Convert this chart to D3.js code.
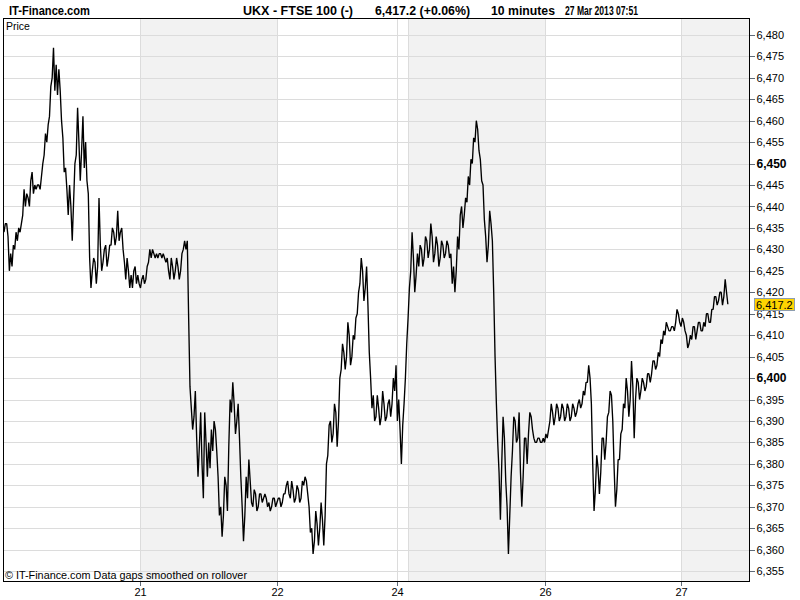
<!DOCTYPE html>
<html lang="en">
<head>
<meta charset="UTF-8">
<title>UKX - FTSE 100</title>
<style>
  body { margin: 0; background: #fff; }
  svg { display: block; font-family: "Liberation Sans", Arial, sans-serif; }
  .hdr { font-weight: bold; font-size: 12px; white-space: pre; }
  .grid { stroke: #dcdcdc; stroke-width: 1; shape-rendering: crispEdges; }
  .axis text { font-size: 11px; fill: #000; }
  .axis line, .axis path { stroke: #5f6b78; shape-rendering: crispEdges; }
</style>
</head>
<body>
<svg id="chart"></svg>
<script src="https://cdnjs.cloudflare.com/ajax/libs/d3/7.9.0/d3.min.js"></script>
<script>
// 5 minute closes, one array per trading day
const days = ["20", "21", "22", "24", "25", "26", "27"];
const day20 = [6434, 6436, 6436, 6433, 6425, 6429, 6426, 6431, 6430, 6434, 6432, 6435, 6434, 6436, 6438, 6444, 6440, 6443,
  6442, 6440, 6446, 6448, 6443, 6445, 6444, 6445, 6445, 6444, 6447, 6450, 6452, 6457, 6455, 6459, 6461, 6468, 6470, 6477,
  6467, 6473, 6466, 6472, 6467, 6460, 6456, 6448, 6449, 6444, 6438, 6445, 6440, 6432, 6441, 6450, 6452, 6463, 6455, 6446,
  6453, 6461, 6449, 6455, 6446, 6443, 6428, 6421, 6425, 6428, 6427, 6422, 6426, 6442, 6431, 6425, 6427, 6430, 6431, 6426,
  6428, 6431, 6431, 6435, 6434, 6431, 6433, 6439, 6432, 6434, 6435, 6430, 6427, 6423, 6428, 6425, 6421, 6424, 6421, 6425,
  6426, 6422, 6424, 6422];
const day21 = [6421, 6423, 6424, 6422, 6423, 6426, 6427, 6430, 6428, 6430, 6429, 6428, 6429, 6428, 6429, 6429, 6428, 6429,
  6428, 6427, 6428, 6425, 6423, 6428, 6426, 6423, 6425, 6428, 6426, 6423, 6425, 6429, 6430, 6432, 6430, 6432, 6414, 6398,
  6393, 6388, 6391, 6397, 6386, 6377, 6384, 6392, 6380, 6372, 6392, 6385, 6377, 6385, 6379, 6388, 6383, 6390, 6388, 6383,
  6377, 6368, 6370, 6363, 6368, 6377, 6375, 6369, 6384, 6395, 6392, 6399, 6394, 6387, 6390, 6394, 6386, 6377, 6370, 6362,
  6368, 6377, 6372, 6381, 6376, 6371, 6370, 6374, 6373, 6369, 6370, 6373, 6373, 6371, 6372, 6373, 6372, 6370, 6371, 6369,
  6370, 6372, 6372, 6370];
const day22 = [6371, 6372, 6372, 6370, 6371, 6373, 6373, 6375, 6376, 6373, 6372, 6376, 6374, 6371, 6372, 6375, 6374, 6371,
  6372, 6376, 6375, 6377, 6376, 6373, 6370, 6364, 6365, 6359, 6362, 6369, 6366, 6361, 6365, 6371, 6367, 6361, 6368, 6380,
  6382, 6389, 6390, 6385, 6387, 6394, 6392, 6384, 6390, 6400, 6402, 6408, 6406, 6402, 6405, 6413, 6410, 6403, 6405, 6410,
  6409, 6414, 6415, 6420, 6422, 6428, 6425, 6418, 6421, 6426, 6417, 6406, 6400, 6393, 6396, 6390, 6391, 6396, 6393, 6389,
  6391, 6397, 6394, 6390, 6391, 6394, 6395, 6391, 6394, 6400, 6397, 6403];
const day24 = [6390, 6395, 6388, 6380, 6389, 6394, 6400, 6408];
const day25 = [6414, 6421, 6425, 6434, 6428, 6420, 6424, 6429, 6426, 6431, 6430, 6426, 6428, 6433, 6432, 6428, 6430, 6436,
  6433, 6427, 6429, 6433, 6431, 6426, 6428, 6432, 6431, 6428, 6429, 6432, 6431, 6428, 6429, 6422, 6426, 6420, 6425, 6433,
  6430, 6438, 6440, 6435, 6438, 6442, 6441, 6447, 6445, 6451, 6450, 6456, 6455, 6460, 6458, 6453, 6451, 6446, 6445, 6437,
  6433, 6427, 6431, 6439, 6436, 6432, 6420, 6405, 6394, 6385, 6378, 6367, 6380, 6391, 6386, 6376, 6370, 6359, 6368, 6377,
  6383, 6391, 6390, 6385, 6386, 6392, 6378, 6370, 6377, 6386, 6386, 6380, 6387, 6392, 6391, 6388, 6386, 6385, 6385, 6386,
  6386, 6385, 6385, 6386];
const day26 = [6385, 6387, 6386, 6388, 6390, 6394, 6392, 6389, 6391, 6394, 6393, 6390, 6391, 6394, 6393, 6390, 6391, 6394,
  6393, 6390, 6391, 6394, 6393, 6391, 6392, 6394, 6395, 6393, 6394, 6397, 6396, 6399, 6399, 6403, 6400, 6394, 6380, 6369,
  6374, 6382, 6379, 6373, 6378, 6386, 6386, 6381, 6385, 6391, 6392, 6397, 6396, 6390, 6379, 6370, 6374, 6381, 6381, 6387,
  6388, 6394, 6393, 6400, 6397, 6391, 6395, 6404, 6398, 6386, 6395, 6400, 6399, 6395, 6397, 6400, 6399, 6397, 6398, 6401,
  6401, 6399, 6401, 6404, 6404, 6402, 6403, 6406, 6405, 6409, 6408, 6411, 6410, 6413, 6412, 6411, 6411, 6412, 6412, 6411,
  6413, 6416, 6415, 6413];
const day27 = [6412, 6414, 6413, 6411, 6410, 6407, 6408, 6410, 6409, 6412, 6412, 6409, 6411, 6413, 6413, 6411, 6411, 6413,
  6412, 6415, 6415, 6413, 6413, 6416, 6416, 6419, 6419, 6417, 6418, 6420, 6420, 6417, 6419, 6423, 6420, 6417.2];
const dayPrices = [day20, day21, day22, day24, day25, day26, day27];

const labelledDays = ["21", "22", "24", "26", "27"];
const shadedDays = ["21", "25", "27"];
const yTicks = [6355, 6360, 6365, 6370, 6375, 6380, 6385, 6390, 6395, 6400, 6405, 6410, 6415, 6420, 6425,
  6430, 6435, 6440, 6445, 6450, 6455, 6460, 6465, 6470, 6475, 6480];
const boldTicks = [6400, 6450];
const lastPrice = 6417.2;

const title = ["UKX - FTSE 100 (-)", "6,417.2 (+0.06%)", "10 minutes", "27 Mar 2013 07:51"];

// flatten days into one slot index
let series = [];
let dayStart = {};
let n = 0;
days.forEach((d, k) => {
  dayStart[d] = n;
  dayPrices[k].forEach(v => { series.push({ i: n, v: v }); n++; });
});
const dayEnd = {};
days.forEach((d, k) => { dayEnd[d] = k < days.length - 1 ? dayStart[days[k + 1]] : null; });

const w = 800, h = 600;
const pLeft = 4, pRight = 749, pTop = 19, pBottom = 581;

const svg = d3.select("#chart").attr("width", w).attr("height", h);
svg.append("rect").attr("width", w).attr("height", h).attr("fill", "#fff");

const x = d3.scaleLinear().domain([0, 556.8]).range([pLeft, pRight]);
const y = d3.scaleLinear().domain([6352.7, 6483.7]).range([pBottom, pTop]);

// shaded days
svg.selectAll(".band")
  .data(shadedDays)
  .enter()
  .append("rect")
  .attr("class", "band")
  .attr("x", d => Math.round(x(dayStart[d])))
  .attr("y", pTop)
  .attr("width", d => (dayEnd[d] === null ? pRight : Math.round(x(dayEnd[d]))) - Math.round(x(dayStart[d])))
  .attr("height", pBottom - pTop)
  .attr("fill", "#f2f2f2");

// grid
svg.selectAll(".hgrid")
  .data(yTicks)
  .enter()
  .append("line")
  .attr("class", "grid")
  .attr("x1", pLeft).attr("x2", pRight)
  .attr("y1", d => Math.round(y(d)) + 0.5)
  .attr("y2", d => Math.round(y(d)) + 0.5);

svg.selectAll(".vgrid")
  .data(days.slice(1))
  .enter()
  .append("line")
  .attr("class", "grid")
  .attr("x1", d => Math.round(x(dayStart[d])) + 0.5)
  .attr("x2", d => Math.round(x(dayStart[d])) + 0.5)
  .attr("y1", pTop).attr("y2", pBottom);

// price line
const line = d3.line().x(d => x(d.i)).y(d => y(d.v));
svg.append("path")
  .datum(series)
  .attr("d", line)
  .attr("fill", "none")
  .attr("stroke", "#000")
  .attr("stroke-width", 1.35)
  .attr("stroke-linejoin", "bevel");

// frame
svg.append("rect")
  .attr("x", pLeft - 0.5).attr("y", pTop - 0.5)
  .attr("width", pRight - pLeft + 1).attr("height", pBottom - pTop + 1)
  .attr("fill", "none").attr("stroke", "#000").attr("shape-rendering", "crispEdges");

// axes
const yAxis = d3.axisRight(y)
  .tickValues(yTicks)
  .tickSize(5)
  .tickPadding(2)
  .tickFormat(d3.format(","));
const ya = svg.append("g")
  .attr("class", "axis")
  .attr("transform", "translate(" + (pRight + 0.5) + ",0)")
  .call(yAxis);
ya.select(".domain").remove();
ya.selectAll("text").style("font-weight", d => boldTicks.includes(d) ? "bold" : "normal")
  .style("font-size", d => boldTicks.includes(d) ? "12px" : "11px");

const xAxis = d3.axisBottom(x)
  .tickValues(labelledDays.map(d => dayStart[d]))
  .tickSize(4)
  .tickPadding(3)
  .tickFormat(i => days.find(d => dayStart[d] === i));
const xa = svg.append("g")
  .attr("class", "axis")
  .attr("transform", "translate(0," + (pBottom + 0.5) + ")")
  .call(xAxis);
xa.select(".domain").remove();
xa.selectAll(".tick").attr("transform", d => "translate(" + (Math.round(x(d)) + 0.5) + ",0)");

// last price tag
const tagY = Math.round(y(lastPrice));
svg.append("rect")
  .attr("x", 754.5).attr("y", tagY - 5.5)
  .attr("width", 40).attr("height", 12)
  .attr("fill", "#ffd400").attr("stroke", "#8d9db0");
svg.append("text")
  .attr("x", 756).attr("y", tagY + 4.5)
  .style("font-size", "11px")
  .text(d3.format(",.1f")(lastPrice));

// header
svg.append("text").attr("class", "hdr")
  .attr("x", 9).attr("y", 15)
  .attr("textLength", 81).attr("lengthAdjust", "spacingAndGlyphs")
  .text("IT-Finance.com");

const titlePos = [[243, 110], [375, 95], [491, 64], [565, 73]];
svg.selectAll(".ttl")
  .data(title)
  .enter()
  .append("text")
  .attr("class", "hdr")
  .attr("x", (d, i) => titlePos[i][0])
  .attr("y", 15)
  .attr("textLength", (d, i) => titlePos[i][1])
  .attr("lengthAdjust", "spacingAndGlyphs")
  .text(d => d);

svg.append("text")
  .attr("x", 6).attr("y", 29.5)
  .style("font-size", "10.5px")
  .text("Price");

svg.append("text")
  .attr("x", 5).attr("y", 578.5)
  .attr("textLength", 242).attr("lengthAdjust", "spacingAndGlyphs")
  .style("font-size", "11px")
  .text("\u00a9 IT-Finance.com  Data gaps smoothed on rollover");
</script>
</body>
</html>
